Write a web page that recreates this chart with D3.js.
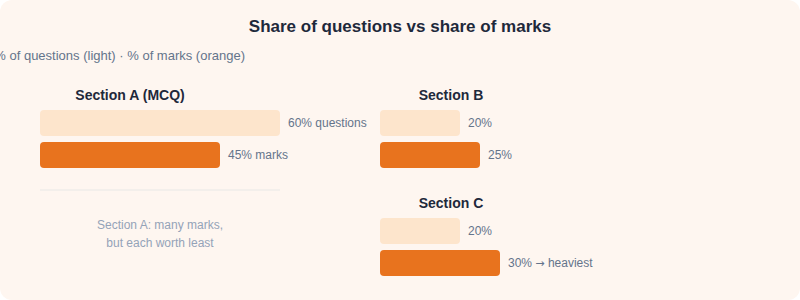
<!DOCTYPE html>
<html>
<head>
<meta charset="utf-8">
<script src="https://cdn.jsdelivr.net/npm/d3@7"></script>
<style>
  html, body { margin: 0; padding: 0; background: #ffffff; }
  svg { display: block; font-family: "Liberation Sans", Arial, Helvetica, sans-serif; }
</style>
</head>
<body>
<svg id="chart" width="800" height="300"></svg>
<script>
// ---- data ----
const sections = ["Section A (MCQ)", "Section B", "Section C"];
const questionShare = [60, 20, 20];
const markShare = [45, 25, 30];
const questionLabels = ["60% questions", "20%", "20%"];
const markLabels = ["45% marks", "25%", "30% \u2192 heaviest"];
const chartTitle = "Share of questions vs share of marks";
const subtitle = "% of questions (light) \u00b7 % of marks (orange)";
const noteLines = ["Section A: many marks,", "but each worth least"];

// ---- layout ----
const W = 800, H = 300;
const svg = d3.select("#chart");
svg.append("rect").attr("x", 0).attr("y", 0).attr("width", W).attr("height", H)
  .attr("rx", 12).attr("fill", "#fef6f0");

svg.append("text").attr("x", W / 2).attr("y", 32).attr("text-anchor", "middle")
  .attr("font-size", 17).attr("font-weight", "bold").attr("fill", "#1e293b").text(chartTitle);
svg.append("text").attr("x", 245).attr("y", 60).attr("text-anchor", "end")
  .attr("font-size", 13).attr("fill", "#64748b").text(subtitle);

const x = d3.scaleLinear().domain([0, 100]).range([0, 400]);
const barH = 26, gap = 6;
const panels = [
  { x0: 40, titleX: 130, titleY: 100, barY: 110 },
  { x0: 380, titleX: 451, titleY: 100, barY: 110 },
  { x0: 380, titleX: 451, titleY: 208, barY: 218 }
];

function addLabel(g, xPos, yPos, label) {
  const t = g.append("text").attr("x", xPos).attr("y", yPos)
    .attr("font-size", 12).attr("fill", "#64748b");
  const parts = label.split("\u2192");
  t.append("tspan").text(parts[0]);
  if (parts.length > 1) {
    t.append("tspan").attr("font-family", "DejaVu Sans").attr("font-size", 11).text("\u2192");
    t.append("tspan").text(parts[1]);
  }
}

sections.forEach((name, i) => {
  const p = panels[i];
  const g = svg.append("g");
  g.append("text").attr("x", p.titleX).attr("y", p.titleY).attr("text-anchor", "middle")
    .attr("font-size", 14).attr("font-weight", "bold").attr("fill", "#1e293b").text(name);
  const rows = [
    { v: questionShare[i], label: questionLabels[i], color: "#fde5cc" },
    { v: markShare[i], label: markLabels[i], color: "#e8731e" }
  ];
  rows.forEach((r, j) => {
    const y = p.barY + j * (barH + gap);
    g.append("rect").attr("x", p.x0 + x(0)).attr("y", y)
      .attr("width", x(r.v) - x(0)).attr("height", barH).attr("rx", 4).attr("fill", r.color);
    addLabel(g, p.x0 + x(r.v) + 8, y + barH / 2 + 4, r.label);
  });
});

// divider + note under Section A
svg.append("line").attr("x1", 40).attr("x2", 40 + x(questionShare[0])).attr("y1", 190).attr("y2", 190)
  .attr("stroke", "#efedea").attr("stroke-width", 1.5);
noteLines.forEach((t, k) => {
  svg.append("text").attr("x", 160).attr("y", 229 + k * 18).attr("text-anchor", "middle")
    .attr("font-size", 12).attr("fill", "#94a3b8").text(t);
});
</script>
</body>
</html>
